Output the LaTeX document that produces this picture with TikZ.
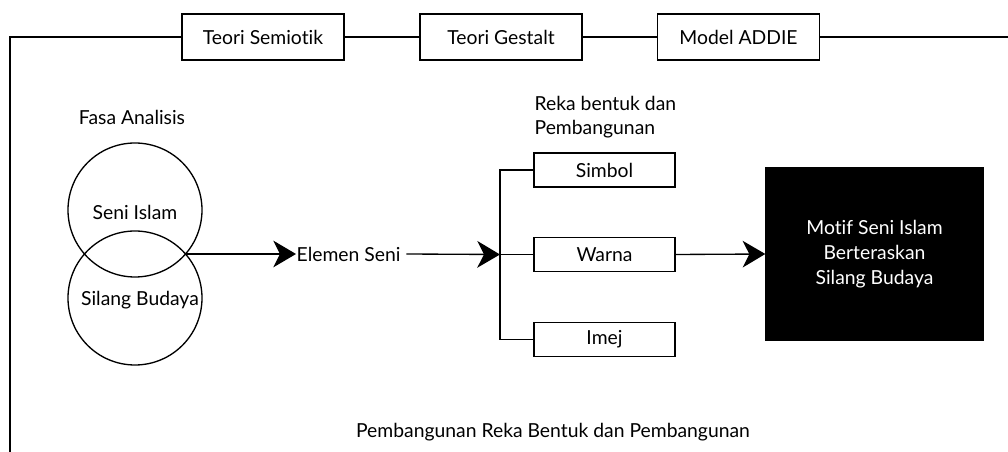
\documentclass[tikz,border=0pt]{standalone}
\usepackage{fontspec}
\setmainfont[Ligatures=NoCommon]{Lato}
\usetikzlibrary{arrows.meta}
\begin{document}
\begin{tikzpicture}[x=0.75pt,y=-0.75pt,line width=1pt,
    every node/.style={font=\fontsize{14.5}{18}\selectfont},
    teoribox/.style={draw,fill=white,minimum width=121.5pt,minimum height=34.5pt,inner sep=0pt},
    fasa/.style={draw,circle,minimum size=100.5pt,inner sep=0pt},
    elemenbox/.style={draw,minimum width=105.75pt,minimum height=25.5pt,inner sep=0pt},
    motifbox/.style={draw,fill=black,text=white,minimum width=162.75pt,minimum height=129pt,align=center,font=\fontsize{14.5}{19}\selectfont},
    tip/.style={-{Stealth[length=17pt,width=20pt,inset=5pt]}}]
\useasboundingbox (0,0) rectangle (1008,452);
% kerangka teori
\node[teoribox] (semiotik) at (263,37) {Teori Semiotik};
\node[teoribox] (gestalt) at (501,37) {Teori Gestalt};
\node[teoribox] (addie) at (738.5,37) {Model ADDIE};
\coordinate (kiri) at (10,37);
\coordinate (bawah) at (10,452);
\coordinate (kanan) at (1008,37);
\draw (semiotik.west) -- (kiri) -- (bawah);
\draw (semiotik.east) -- (gestalt.west);
\draw (gestalt.east) -- (addie.west);
\draw (addie.east) -- (kanan);
% fasa analisis
\node (fasa) at (132,117) {Fasa Analisis};
\node[fasa] (seni) at (135,210) {};
\node[fasa] (silang) at (135,298) {};
\node at (135,212) {Seni Islam};
\node at (140,300) {Silang Budaya};
\coordinate (temu) at (185.5,254);
\node[anchor=west,inner sep=0pt] (elemen) at (296,254) {Elemen Seni};
\draw[tip] (temu) -- (elemen.west);
% reka bentuk
\node[anchor=north west,align=left,inner sep=0pt,font=\fontsize{14.5}{17.5}\selectfont] (reka) at (534,96) {Reka bentuk dan\\Pembangunan};
\node[elemenbox] (simbol) at (604.5,170) {Simbol};
\node[elemenbox] (warna) at (604.5,254.5) {Warna};
\node[elemenbox] (imej) at (604.5,339.5) {Imej};
\coordinate (cabang) at (500,254.5);
\draw[tip] ([xshift=4pt]elemen.east) -- (cabang);
\draw (simbol.west) -| (cabang) |- (imej.west);
\draw (cabang) -- (warna.west);
% hasil
\node[motifbox] (motif) at (874.5,254) {Motif Seni Islam\\Berteraskan\\Silang Budaya};
\draw[tip] (warna.east) -- (motif.west);
\node (bina) at (553,432) {Pembangunan Reka Bentuk dan Pembangunan};
\end{tikzpicture}
\end{document}
